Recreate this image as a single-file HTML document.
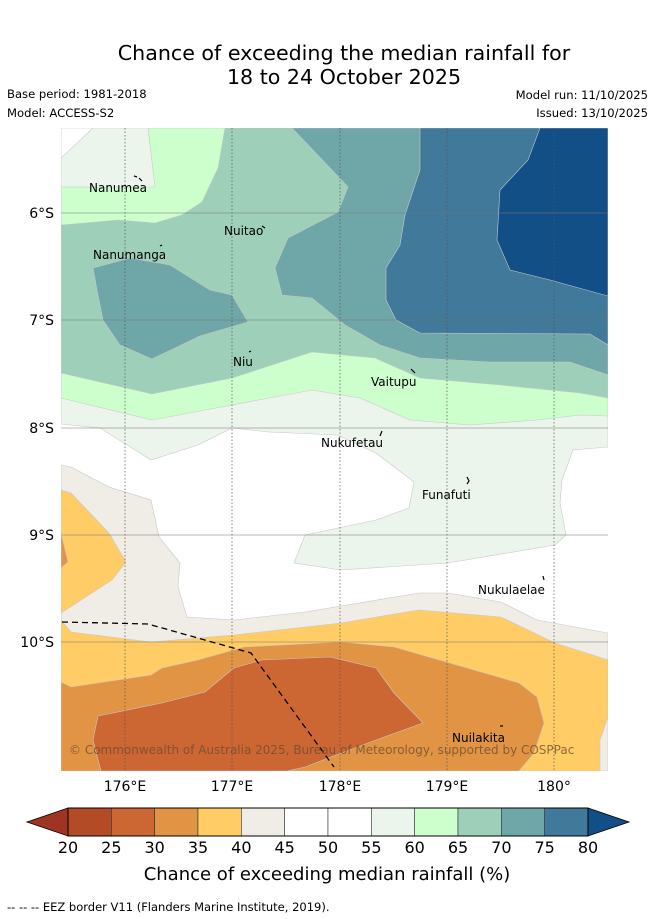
<!DOCTYPE html>
<html><head><meta charset="utf-8"><style>
html,body{margin:0;padding:0;background:#fff;}
svg{display:block;font-family:"DejaVu Sans","Liberation Sans",sans-serif;}
</style></head><body>
<svg width="655" height="919" viewBox="0 0 655 919">
<rect width="655" height="919" fill="#fff"/>
<text x="344" y="60" font-size="20.6" text-anchor="middle">Chance of exceeding the median rainfall for</text>
<text x="344" y="84" font-size="20.6" text-anchor="middle">18 to 24 October 2025</text>
<text x="7" y="98" font-size="11.6">Base period: 1981-2018</text>
<text x="7" y="117" font-size="11.6">Model: ACCESS-S2</text>
<text x="648" y="99" font-size="11.6" text-anchor="end">Model run: 11/10/2025</text>
<text x="648" y="117" font-size="11.6" text-anchor="end">Issued: 13/10/2025</text>
<defs><clipPath id="mc"><rect x="61" y="128" width="547" height="643"/></clipPath></defs>
<g clip-path="url(#mc)" stroke="#c8c8c8" stroke-width="0.6">
<rect x="61" y="128" width="547" height="643" fill="#fff" stroke="none"/>
<polygon fill="#ebf5eb" points="61,128 608,128 608,447 573,450 562,480 560,503 566,535 555,545 448,563 341,570 294,563 305,535 376,520 409,508 414,482 376,453 337,435 269,432 232,428 198,445 151,460 100,428 61,424"/>
<polygon fill="#fff" points="61,128 93,128 61,158"/>
<polygon fill="#ccffcc" points="148,128 608,128 608,416 580,415 537,420 470,425 410,420 360,398 312,390 232,405 152,420 61,398 61,187 155,187"/>
<polygon fill="#9ecfb8" points="225,128 608,128 608,398 580,393 500,385 420,378 375,358 312,352 232,378 152,394 61,373 61,225 118,220 155,223 182,215 202,202 218,168"/>
<polygon fill="#6fa6a8" points="292,128 608,128 608,375 570,362 490,362 420,358 380,345 345,325 312,298 282,295 275,268 288,238 338,212 348,187"/>
<polygon fill="#6fa6a8" points="93,268 130,258 170,265 210,290 232,295 248,322 200,336 152,359 120,345 103,320 98,295"/>
<polygon fill="#40799a" points="420,128 608,128 608,345 590,334 420,333 396,320 386,300 386,268 400,245 405,215 420,170"/>
<polygon fill="#134f87" points="540,128 608,128 608,296 550,280 510,270 497,240 500,190 528,160"/>
<polygon fill="#f0ece6" points="61,465 71,467 109,487 151,500 159,537 180,563 178,587 187,617 234,620 305,612 419,593 448,593 501,602 537,620 608,633 608,771 61,771"/>
<polygon fill="#ffcc66" points="61,490 71,493 109,533 126,562 112,580 61,613 61,620 71,632 151,642 234,635 341,623 419,610 501,617 555,643 608,660 608,717 600,740 600,771 61,771"/>
<polygon fill="#e09444" points="61,682 71,687 151,675 162,668 198,660 244,647 341,642 394,647 519,683 537,697 544,723 534,753 519,771 61,771"/>
<polygon fill="#e09444" points="61,533 68,562 61,568"/>
<polygon fill="#cc6633" points="98,716 162,703 205,692 234,668 262,660 330,657 376,668 394,693 423,723 376,740 305,767 287,771 101,771 93,740"/>
</g>
<g clip-path="url(#mc)">
<g stroke="#555" stroke-width="0.7" stroke-dasharray="1.5,2">
<line x1="125" y1="128" x2="125" y2="771"/><line x1="232" y1="128" x2="232" y2="771"/><line x1="340" y1="128" x2="340" y2="771"/><line x1="447" y1="128" x2="447" y2="771"/><line x1="554" y1="128" x2="554" y2="771"/>
</g>
<g stroke="#777" stroke-width="0.7" opacity="0.7">
<line x1="61" y1="213" x2="608" y2="213"/><line x1="61" y1="320" x2="608" y2="320"/><line x1="61" y1="428" x2="608" y2="428"/><line x1="61" y1="535" x2="608" y2="535"/><line x1="61" y1="642" x2="608" y2="642"/>
</g>
</g>
<polyline points="62,622 148,624 251,653 334,767" fill="none" stroke="#000" stroke-width="1.3" stroke-dasharray="6,4"/>
<g font-size="12" fill="#000">
<text x="89" y="192">Nanumea</text>
<text x="224" y="235">Nuitao</text>
<text x="93" y="259">Nanumanga</text>
<text x="233" y="366">Niu</text>
<text x="371" y="386">Vaitupu</text>
<text x="321" y="447">Nukufetau</text>
<text x="422" y="499">Funafuti</text>
<text x="478" y="594">Nukulaelae</text>
<text x="452" y="742">Nuilakita</text>
</g>
<g stroke="#000" stroke-width="1.2" fill="none">
<path d="M134,176 l3,1 M139,178 l3,3"/><path d="M262,226 l3,2"/><path d="M160,246 l2,-1"/><path d="M249,352 l2,-1"/><path d="M411,369 l4,4"/><path d="M382,431 l-2,5"/><path d="M467,477 l2,4 l-2,3"/><path d="M543,576 l1,4"/><path d="M500,726 l3,0"/>
</g>
<text x="69" y="754" font-size="12" fill="#6b4a30" opacity="0.75">© Commonwealth of Australia 2025, Bureau of Meteorology, supported by COSPPac</text>
<g font-size="14" fill="#000">
<text x="54" y="218" text-anchor="end">6°S</text><text x="54" y="325" text-anchor="end">7°S</text><text x="54" y="433" text-anchor="end">8°S</text><text x="54" y="540" text-anchor="end">9°S</text><text x="54" y="647" text-anchor="end">10°S</text>
</g>
<g font-size="14" fill="#000" text-anchor="middle">
<text x="125" y="791">176°E</text><text x="232" y="791">177°E</text><text x="340" y="791">178°E</text><text x="447" y="791">179°E</text><text x="554" y="791">180°</text>
</g>
<g id="cbar"></g>
<text x="327" y="880" font-size="18" text-anchor="middle">Chance of exceeding median rainfall (%)</text>
<text x="7" y="911" font-size="11.5">--  --  -- EEZ border V11 (Flanders Marine Institute, 2019).</text>
</svg>
<script>
const levels = [20,25,30,35,40,45,50,55,60,65,70,75,80];
const binColors = ["#b34b27","#cc6633","#e09444","#ffcc66","#f0ece6","#ffffff","#ffffff","#ebf5eb","#ccffcc","#9ecfb8","#6fa6a8","#40799a"];
const extColors = ["#9e3421","#134f87"];
const NS = "http://www.w3.org/2000/svg";
const cb = document.getElementById('cbar');
const x0 = 68, x1 = 588, y0 = 808, y1 = 836;
function cx(v){ return x0 + (v - levels[0]) / (levels[levels.length-1] - levels[0]) * (x1 - x0); }
function mk(tag, attrs){ const e = document.createElementNS(NS, tag); for (const k in attrs) e.setAttribute(k, attrs[k]); cb.appendChild(e); return e; }
const lt = mk('polygon', {points: `${x0},${y0} 27,${(y0+y1)/2} ${x0},${y1}`, fill: extColors[0], stroke: '#000', 'stroke-width': 0.8});


const rt = mk('polygon', {points: `${x1},${y0} 629,${(y0+y1)/2} ${x1},${y1}`, fill: extColors[1], stroke: '#000', 'stroke-width': 0.8});


for (let i = 0; i < binColors.length; i++) {
  const r = mk('rect', {x: cx(levels[i]), y: y0, width: cx(levels[i+1]) - cx(levels[i]), height: y1 - y0, fill: binColors[i], stroke: '#333', 'stroke-width': 0.6});
  
  
}
mk('rect', {x: x0, y: y0, width: x1 - x0, height: y1 - y0, fill: 'none', stroke: '#000', 'stroke-width': 1});
for (const v of levels) {
  const t = mk('text', {x: cx(v), y: 853, 'font-size': 16, 'text-anchor': 'middle'});
  t.textContent = v;
  
  
}
</script>
</body></html>
